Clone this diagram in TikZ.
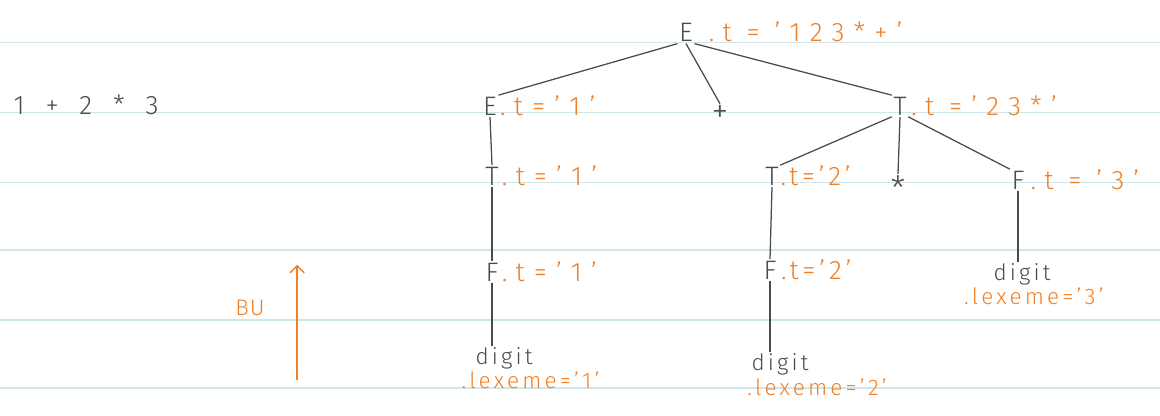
\documentclass[tikz,border=0pt]{standalone}
\usepackage{fontspec}
\setmainfont{Fira Sans Light}[LetterSpace=14]
\newfontfamily\handwide{Fira Sans Light}[Ligatures=TeX,LetterSpace=34,WordSpace=0.9]
\newfontfamily\handexpr{Fira Sans Light}[LetterSpace=32,WordSpace=1.3]
\newfontfamily\handtight{Fira Sans Light}[LetterSpace=5]
\usetikzlibrary{positioning,arrows.meta}
\definecolor{pencil}{RGB}{75,75,75}
\definecolor{marker}{RGB}{240,128,40}
\definecolor{ruling}{RGB}{208,230,234}

\begin{document}
\begin{tikzpicture}[
    sym/.style={inner sep=1pt, text=pencil, font=\fontsize{19}{21}\selectfont},
    attr/.style={inner sep=0pt, anchor=base west, text=marker,
        font=\handwide\fontsize{19}{21}\selectfont},
    narrow/.style={font=\fontsize{19}{21}\selectfont},
    tok/.style={inner sep=1pt, text=pencil, font=\fontsize{16}{18}\selectfont},
    lex/.style={inner sep=0pt, anchor=north west, text=marker, font=\fontsize{16}{18}\selectfont},
    branch/.style={draw=pencil, line width=0.9pt},
    rule/.style={draw=ruling, line width=0.8pt}
]
\useasboundingbox (0,0) rectangle (29,10.4);

% notebook ruling
\foreach \y in {9.33,7.58,5.83,4.15,2.4,0.7}
    \draw[rule] (0,\y) -- (29,\y);

% input and direction
\node[sym, anchor=west, font=\handexpr\fontsize{19}{21}\selectfont] (expr) at (0.3,7.78) {1 + 2 * 3};
\node[sym, text=marker, font=\handtight\fontsize{16}{18}\selectfont] (bu) at (6.25,2.7) {BU};
\coordinate (buFrom) at (7.43,0.9);
\coordinate (buTo) at (7.43,3.78);
\draw[-{Straight Barb[length=5pt,width=10pt]}, draw=marker, line width=1pt] (buFrom) -- (buTo);

% grammar symbols
\node[sym] (E0) at (17.15,9.58) {E};
\node[sym] (E1) at (12.25,7.75) {E};
\node[sym, font=\fontsize{24}{26}\selectfont] (plus) at (18.0,7.55) {+};
\node[sym] (T1) at (22.5,7.75) {T};
\node[sym] (T2) at (12.3,6.0) {T};
\node[sym] (T3) at (19.3,6.0) {T};
\node[sym, font=\fontsize{24}{26}\selectfont] (star) at (22.45,5.7) {*};
\node[sym] (F3) at (25.45,5.9) {F};
\node[sym] (F1) at (12.3,3.6) {F};
\node[sym] (F2) at (19.25,3.65) {F};
\node[tok] (d3) at (25.55,3.55) {digit};
\node[tok] (d1) at (12.6,1.45) {digit};
\node[tok] (d2) at (19.5,1.28) {digit};

% attributes
\node[attr] (aE0) at ([xshift=10pt]E0.base east) {.t = '123*+'};
\node[attr] (aE1) at ([xshift=1pt]E1.base east) {.t='1'};
\node[attr] (aT1) at ([xshift=2pt]T1.base east) {.t ='23*'};
\node[attr] (aT2) at ([xshift=1pt]T2.base east) {.t='1'};
\node[attr, narrow] (aT3) at ([xshift=0pt]T3.base east) {.t='2'};
\node[attr] (aF3) at ([xshift=3pt]F3.base east) {.t = '3'};
\node[attr] (aF1) at ([xshift=1pt]F1.base east) {.t='1'};
\node[attr, narrow] (aF2) at ([xshift=2pt]F2.base east) {.t='2'};
\node[lex] (l1) at ([xshift=-9pt,yshift=-1pt]d1.south west) {.lexeme='1'};
\node[lex] (l2) at ([xshift=-2pt,yshift=-1pt]d2.south west) {.lexeme='2'};
\node[lex] (l3) at ([xshift=-20pt,yshift=-1pt]d3.south west) {.lexeme='3'};

% parse tree
\draw[branch] (E0.south west) -- (E1.north east);
\draw[branch] (E0.south) -- (plus.north);
\draw[branch] (E0.south east) -- (T1.north west);
\draw[branch] (E1.south) -- (T2.north);
\draw[branch] (T2.south) -- (F1.north);
\draw[branch] (F1.south) -- (F1.south |- d1.north);
\draw[branch] (T1.south west) -- (T3.north east);
\draw[branch] (T1.south) -- (star.north);
\draw[branch] (T1.south east) -- (F3.north west);
\draw[branch] (T3.south) -- (F2.north);
\draw[branch] (F2.south) -- (F2.south |- d2.north);
\draw[branch] (F3.south) -- (F3.south |- d3.north);
\end{tikzpicture}
\end{document}
